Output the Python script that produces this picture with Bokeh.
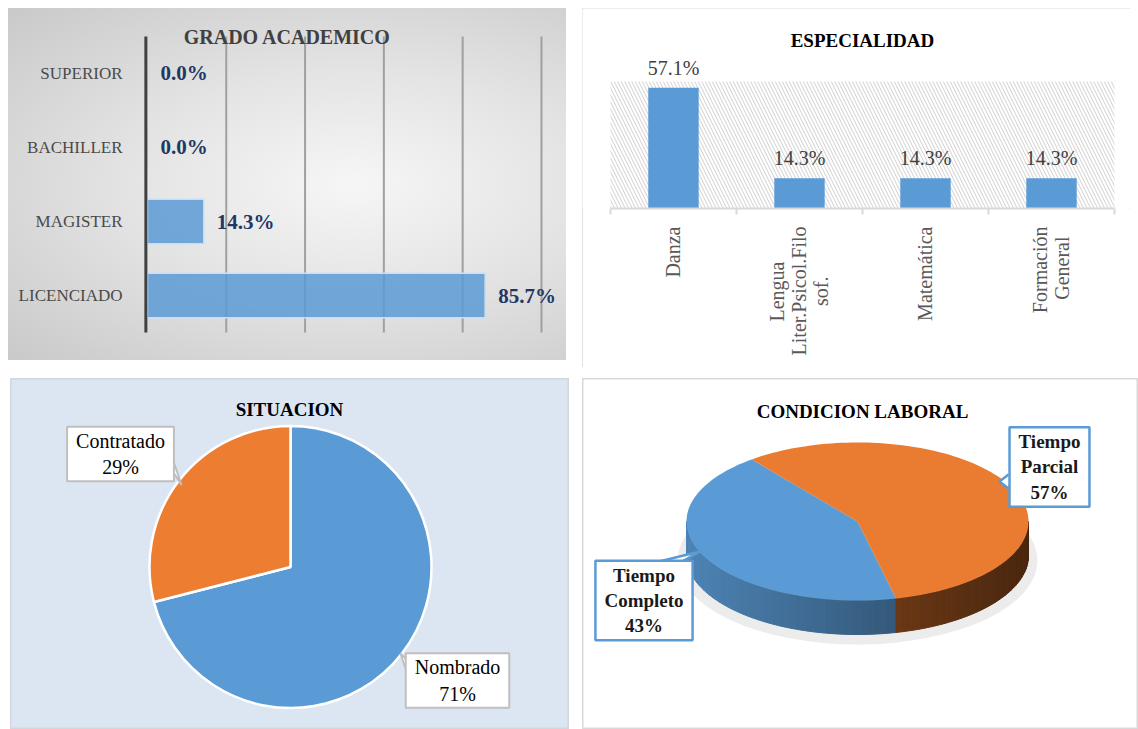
import math
import numpy as np
from bokeh.plotting import figure
from bokeh.models import (ColumnDataSource, FactorRange, Range1d, LinearAxis,
                          FixedTicker, LabelSet, Label, BoxAnnotation)
from bokeh.core.properties import value
from bokeh.embed import file_html
from bokeh.resources import INLINE

SERIF = "Liberation Serif"
BLUE = "#5b9bd5"
ORANGE = "#ed7d31"
NB = "\u00a0"

# ---------------- data ----------------
grado_cats = ["LICENCIADO", "MAGISTER", "BACHILLER", "SUPERIOR"]
grado_vals = [85.7, 14.3, 0.0, 0.0]
grado_ticks = [20, 40, 60, 80, 100]

esp_cats = ["Danza", "Lengua\nLiter.Psicol.Filo\nsof.", "Matemática", "Formación\nGeneral"]
esp_vals = [57.1, 14.3, 14.3, 14.3]
# tick labels: same names, shorter lines padded so each block reads centred
esp_tick_labels = ["Danza",
                   "Lengua" + NB * 7 + "\nLiter.Psicol.Filo\nsof." + NB * 10,
                   "Matemática",
                   "Formación\nGeneral" + NB * 2]

sit_cats = ["Nombrado", "Contratado"]
sit_vals = [71, 29]

cond_cats = ["Tiempo Completo", "Tiempo Parcial"]
cond_vals = [43, 57]


def place(left, top, extra=None):
    s = {"position": "absolute", "left": f"{left}px", "top": f"{top}px"}
    if extra:
        s.update(extra)
    return s


# ---------------- panel 1: GRADO ACADEMICO ----------------
n1 = len(grado_cats)
p1 = figure(width=558, height=352, x_range=Range1d(-1.0, 106.35),
            y_range=FactorRange(*grado_cats, range_padding=0.378, range_padding_units="absolute"),
            x_axis_location=None, output_backend="svg", toolbar_location=None,
            min_border_left=135, min_border_right=0, min_border_top=0, min_border_bottom=0,
            styles=place(8, 8, {"background": "radial-gradient(ellipse at 62% 50%, #f6f6f6 0%, #e4e4e4 45%, #c9c9c9 100%)"}))
p1.background_fill_color = None
p1.border_fill_color = None
p1.outline_line_color = None
p1.xgrid.grid_line_color = None
p1.ygrid.grid_line_color = None
ax = p1.yaxis[0]
ax.axis_line_color = None
ax.major_tick_line_color = None
ax.minor_tick_line_color = None
ax.major_label_text_font = SERIF
ax.major_label_text_font_size = "17px"
ax.major_label_text_color = "#4a4a4a"
ax.major_label_standoff = 15
# vertical gridlines and the category axis line (spanning the category band only)
p1.segment(x0=grado_ticks, x1=grado_ticks, y0=0, y1=n1, line_color="#a0a0a0", line_width=2)

src1 = ColumnDataSource(dict(cat=grado_cats, val=grado_vals,
                             lbl=[f"{v:.1f}%" for v in grado_vals]))
p1.hbar(y="cat", left=0, right="val", height=0.6, source=src1,
        fill_color=BLUE, fill_alpha=0.85, line_color="#c9dff2", line_width=1.5)
p1.segment(x0=[-0.4], x1=[-0.4], y0=0, y1=n1, line_color="#404040", line_width=3)
p1.add_layout(LabelSet(x="val", y="cat", text="lbl", source=src1, x_offset=13,
                       text_baseline="middle", text_align="left",
                       text_font=value(SERIF), text_font_style="bold",
                       text_font_size=value("21px"), text_color="#1f3864"))
p1.add_layout(Label(x=35.5, y=n1 - 0.005, text="GRADO ACADEMICO",
                    text_align="center", text_baseline="middle", text_font=SERIF,
                    text_font_style="bold", text_font_size="20px", text_color="#404040"))

# ---------------- panel 2: ESPECIALIDAD ----------------
n2 = len(esp_cats)
pos2 = [i + 0.5 for i in range(n2)]
p2 = figure(width=548, height=359, x_range=Range1d(-0.222, 4.127), y_range=Range1d(0, 94.5),
            x_axis_location=None, y_axis_location=None,
            output_backend="svg", toolbar_location=None,
            min_border_left=0, min_border_right=0, min_border_top=0, min_border_bottom=159,
            styles=place(582, 8, {"outline": "2px solid #d9d9d9", "outline-offset": "-2px"}))
p2.outline_line_color = None
p2.xgrid.grid_line_color = None
p2.ygrid.grid_line_color = None
p2.background_fill_color = "white"
p2.border_fill_color = "white"
p2.add_layout(BoxAnnotation(left=0, right=n2, bottom=0, top=60,
                            fill_color=None, line_color=None, hatch_pattern="\\",
                            hatch_color="#cfcfcf", hatch_scale=7, hatch_weight=1,
                            level="underlay"))
xaxis2 = LinearAxis(ticker=FixedTicker(ticks=pos2, minor_ticks=list(range(n2 + 1))),
                    bounds=(0, n2),
                    major_label_overrides={p: c for p, c in zip(pos2, esp_tick_labels)},
                    major_label_orientation=math.pi / 2,
                    axis_line_color="#d9d9d9", axis_line_width=2,
                    major_tick_line_color=None, major_tick_in=0, major_tick_out=0,
                    minor_tick_line_color="#d9d9d9", minor_tick_line_width=2,
                    minor_tick_in=0, minor_tick_out=6,
                    major_label_text_font=SERIF, major_label_text_font_size="20px",
                    major_label_text_color="#595959", major_label_standoff=12,
                    major_label_text_line_height=1.0)
p2.add_layout(xaxis2, "below")
src2 = ColumnDataSource(dict(x=pos2, val=esp_vals, lbl=[f"{v:.1f}%" for v in esp_vals]))
p2.vbar(x="x", top="val", width=0.4, source=src2, fill_color=BLUE, line_color=None)
p2.add_layout(LabelSet(x="x", y="val", text="lbl", source=src2, y_offset=9,
                       text_align="center", text_baseline="bottom",
                       text_font=value(SERIF), text_font_size=value("20px"),
                       text_color="#404040"))
p2.add_layout(Label(x=n2 / 2, y=79.4, text="ESPECIALIDAD",
                    text_align="center", text_baseline="middle", text_font=SERIF,
                    text_font_style="bold", text_font_size="19px", text_color="black"))

# ---------------- panel 3: SITUACION ----------------
p3 = figure(width=559, height=351, x_range=Range1d(-280, 279), y_range=Range1d(-162.5, 188.5),
            x_axis_location=None, y_axis_location=None, min_border=0,
            output_backend="svg", toolbar_location=None, styles=place(10, 378))
p3.background_fill_color = "#dce6f2"
p3.border_fill_color = "#dce6f2"
p3.outline_line_color = "#d3d6da"
p3.outline_line_width = 2
p3.xgrid.grid_line_color = None
p3.ygrid.grid_line_color = None
fr3 = np.array(sit_vals, dtype=float) / sum(sit_vals)
cum3 = np.concatenate([[0], np.cumsum(fr3)])
src3 = ColumnDataSource(dict(cat=sit_cats,
                             start=np.pi / 2 - 2 * np.pi * cum3[:-1],
                             end=np.pi / 2 - 2 * np.pi * cum3[1:],
                             color=[BLUE, ORANGE]))
p3.wedge(x=0, y=0, radius=141, start_angle="start", end_angle="end", direction="clock",
         source=src3, fill_color="color", line_color="white", line_width=2.5)
lab3_pos = {"Contratado": (-170, 113), "Nombrado": (167, -113.5)}
ptr3 = {"Contratado": [(52, -4.5), (61, -31), (52, -17)],
        "Nombrado": [(-50, 20), (-57, 27), (-50, 6)]}
for cat, v in zip(sit_cats, sit_vals):
    lx, ly = lab3_pos[cat]
    pts = ptr3[cat]
    xs = [lx + a for a, b in pts]
    ys = [ly + b for a, b in pts]
    p3.patch(xs, ys, fill_color="white", line_color=None)
    p3.line(xs, ys, line_color="#bfbfbf", line_width=2)
    p3.add_layout(Label(x=lx, y=ly, text=f"{cat}\n{v}%", text_align="center",
                        text_baseline="middle", text_font=SERIF, text_font_size="20px",
                        text_color="black", background_fill_color="white",
                        border_line_color="#bfbfbf", border_line_width=2, padding=(9, 3)))
p3.add_layout(Label(x=-1, y=158, text="SITUACION", text_align="center", text_baseline="middle",
                    text_font=SERIF, text_font_style="bold", text_font_size="19px",
                    text_color="black"))

# ---------------- panel 4: CONDICION LABORAL ----------------
p4 = figure(width=556, height=351, x_range=Range1d(-275, 281), y_range=Range1d(-208, 143),
            x_axis_location=None, y_axis_location=None, min_border=0,
            output_backend="svg", toolbar_location=None, styles=place(582, 378))
p4.background_fill_color = "white"
p4.border_fill_color = "white"
p4.outline_line_color = "#d9d9d9"
p4.outline_line_width = 2
p4.xgrid.grid_line_color = None
p4.ygrid.grid_line_color = None

RX, RY, DEPTH = 171.0, 79.0, 34.0
START = 167.0  # degrees clockwise from top where the first slice begins
fr4 = np.array(cond_vals, dtype=float) / sum(cond_vals)
cum4 = START + 360 * np.concatenate([[0], np.cumsum(fr4)])
base_cols = [(91, 155, 213), (237, 125, 49)]

p4.ellipse(x=0, y=-DEPTH - 5, width=2 * RX + 18, height=2 * RY + 10,
           fill_color="#ececec", line_color=None)


def ell(phi_deg):
    r = np.radians(phi_deg)
    return RX * np.sin(r), RY * np.cos(r)


side_xs, side_ys, side_cols = [], [], []
for i in range(len(cond_vals)):
    a, b = cum4[i], cum4[i + 1]
    for lo, hi in [(90, 270), (450, 630)]:
        s, e = max(a, lo), min(b, hi)
        if e <= s:
            continue
        n = max(2, int((e - s) / 2))
        ph = np.linspace(s, e, n + 1)
        for k in range(n):
            x1, y1 = ell(ph[k])
            x2, y2 = ell(ph[k + 1])
            side_xs.append([x1, x2, x2, x1])
            side_ys.append([y1, y2, y2 - DEPTH, y1 - DEPTH])
            t = ((x1 + x2) / 2 + RX) / (2 * RX)
            f = 0.85 - 0.45 * t
            if i == 1:
                f *= 0.78
            r, g, bb = base_cols[i]
            side_cols.append("#%02x%02x%02x" % (int(r * f), int(g * f), int(bb * f)))
p4.patches(side_xs, side_ys, fill_color=side_cols, line_color=side_cols, line_width=1)

top_xs, top_ys = [], []
for i in range(len(cond_vals)):
    ph = np.linspace(cum4[i], cum4[i + 1], 120)
    xe, ye = ell(ph)
    top_xs.append([0.0] + list(xe))
    top_ys.append([0.0] + list(ye))
p4.patches(top_xs, top_ys, fill_color=[BLUE, "#e97c31"], line_color=None)

lab4_pos = {"Tiempo Completo": (-213.5, -79), "Tiempo Parcial": (192, 54.5)}
ptr4 = {"Tiempo Completo": [(11, 38), (56, 49), (36, 38)],
        "Tiempo Parcial": [(-41, -7.5), (-50, -14.5), (-41, -21.5)]}
for cat, v in zip(cond_cats, cond_vals):
    lx, ly = lab4_pos[cat]
    pts = ptr4[cat]
    xs = [lx + a for a, b in pts]
    ys = [ly + b for a, b in pts]
    p4.patch(xs, ys, fill_color="white", line_color=None)
    p4.line(xs, ys, line_color=BLUE, line_width=2.5)
    p4.add_layout(Label(x=lx, y=ly, text=cat.replace(" ", "\n") + f"\n{v}%",
                        text_align="center", text_baseline="middle", text_font=SERIF,
                        text_font_style="bold", text_font_size="19px", text_color="#1a1a1a",
                        background_fill_color="white", border_line_color=BLUE,
                        border_line_width=2.5, padding=(9, 4)))
p4.add_layout(Label(x=5, y=110.5, text="CONDICION LABORAL", text_align="center",
                    text_baseline="middle", text_font=SERIF, text_font_style="bold",
                    text_font_size="19px", text_color="black"))

open("out.html", "w").write(file_html([p1, p2, p3, p4], INLINE))
